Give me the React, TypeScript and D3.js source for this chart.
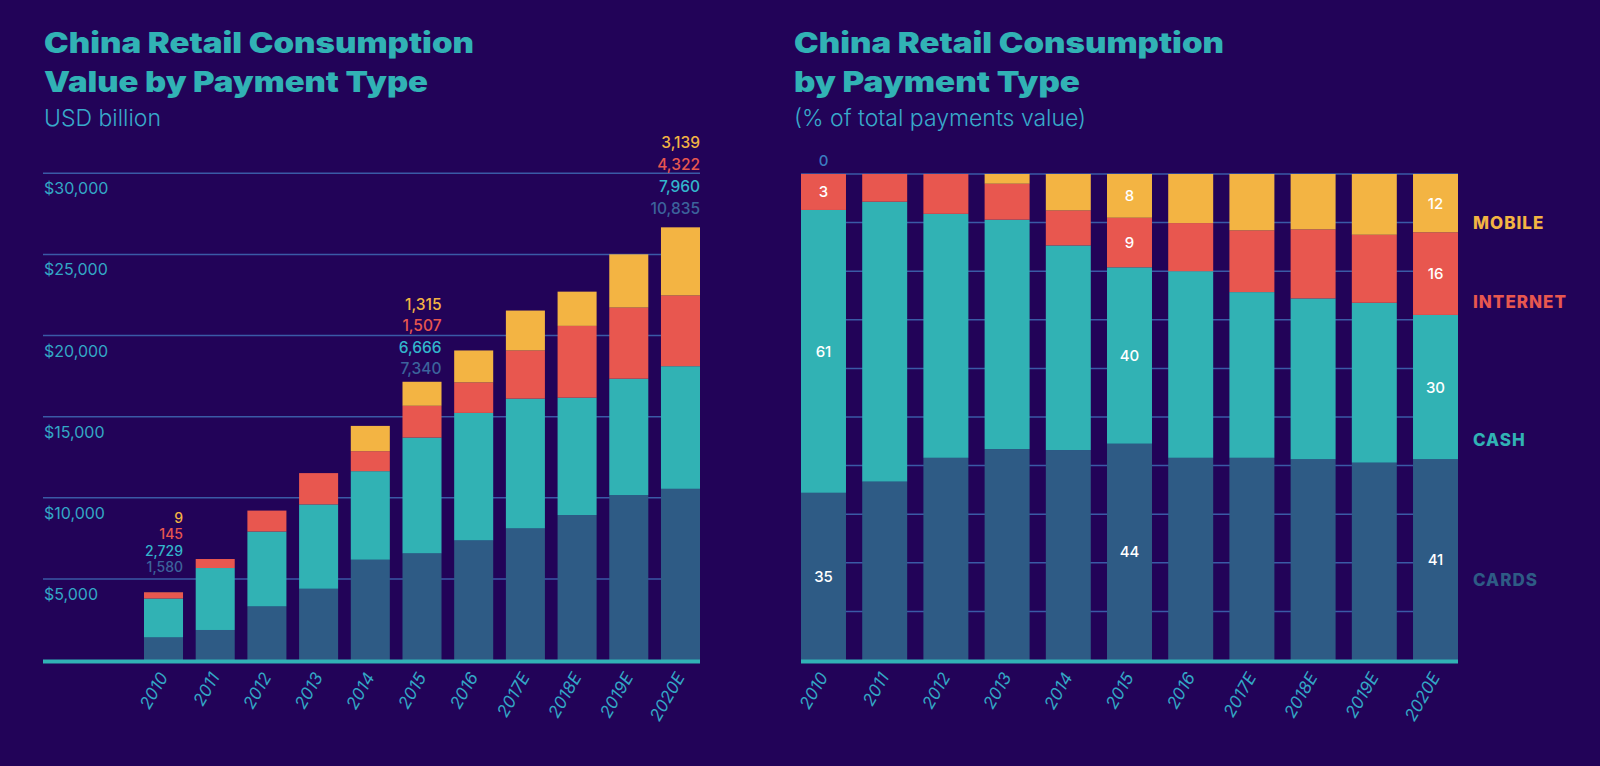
import { useEffect, useMemo } from "react";
import { format, range, scaleBand, scaleLinear, stack } from "d3";

// --- data -------------------------------------------------------------
const YEARS = ["2010", "2011", "2012", "2013", "2014", "2015", "2016", "2017E", "2018E", "2019E", "2020E"];

// USD billion (left chart), bar heights as drawn
const VALUE_CARDS = [1390, 1850, 3300, 4390, 6180, 6570, 7370, 8110, 8930, 10160, 10550];
const VALUE_CASH = [2400, 3820, 4620, 5200, 5460, 7140, 7860, 8000, 7240, 7180, 7560];
const VALUE_INTERNET = [380, 555, 1290, 1930, 1230, 1960, 1880, 2970, 4425, 4385, 4360];
const VALUE_MOBILE = [9, 0, 0, 0, 1560, 1480, 1970, 2460, 2110, 3280, 4200];
const VALUE_TICKS = [5000, 10000, 15000, 20000, 25000, 30000];

// printed values above the bars
const VALUE_LABEL_YEARS = ["2010", "2015", "2020E"];
const VALUE_LABEL_CARDS = [1580, 7340, 10835];
const VALUE_LABEL_CASH = [2729, 6666, 7960];
const VALUE_LABEL_INTERNET = [145, 1507, 4322];
const VALUE_LABEL_MOBILE = [9, 1315, 3139];

// % of total payments value (right chart), as drawn
const SHARE_CARDS = [34.4, 36.7, 41.6, 43.4, 43.2, 44.5, 41.6, 41.6, 41.3, 40.6, 41.3];
const SHARE_CASH = [58.2, 57.6, 50.2, 47.2, 42.1, 36.3, 38.4, 34.1, 33.1, 32.9, 29.7];
const SHARE_INTERNET = [7.4, 5.7, 8.2, 7.4, 7.2, 10.2, 9.9, 12.7, 14.2, 14.0, 17.0];
const SHARE_MOBILE = [0, 0, 0, 2.0, 7.5, 9.0, 10.1, 11.6, 11.4, 12.5, 12.0];

// printed share labels
const SHARE_LABEL_YEARS = ["2010", "2015", "2020E"];
const SHARE_LABEL_CARDS = [35, 44, 41];
const SHARE_LABEL_CASH = [61, 40, 30];
const SHARE_LABEL_INTERNET = [3, 9, 16];
const SHARE_LABEL_MOBILE = [0, 8, 12];

const KEYS = ["cards", "cash", "internet", "mobile"] as const;
type Key = (typeof KEYS)[number];

// --- styles -----------------------------------------------------------
const BG = "#220358";
const TEAL = "#31b2b5";
const AXIS_TEXT = "#33a8c6";
const GRID = "#3a5aa6";
const FONT = "Inter, 'Noto Sans', sans-serif";
const COLORS: Record<Key, string> = {
  cards: "#2e5b85",
  cash: "#31b2b4",
  internet: "#e8574f",
  mobile: "#f3b443",
};
const LABEL_COLORS: Record<Key, string> = {
  cards: "#3c639c",
  cash: "#33b5cc",
  internet: "#e8574f",
  mobile: "#f3b443",
};
const LEGEND_NAMES: Record<Key, string> = {
  cards: "CARDS",
  cash: "CASH",
  internet: "INTERNET",
  mobile: "MOBILE",
};
// legend rows sit at these share levels
const LEGEND_AT: Record<Key, number> = { mobile: 90, internet: 73.7, cash: 45.3, cards: 16.5 };
// line gap / lift above bar / font size of each printed value block
const VALUE_LABEL_LAYOUT = [
  { gap: 16.5, lift: 20, size: 14 },
  { gap: 21.5, lift: 7.5, size: 15.5 },
  { gap: 22, lift: 13, size: 15.5 },
];

const LEFT = { x0: 144, x1: 700, gridX0: 43, top: 173.3, base: 660 };
const RIGHT = { x0: 801, x1: 1458, top: 174, base: 660 };

type Row = { year: string } & Record<Key, number>;

const buildRows = (a: number[], b: number[], c: number[], d: number[]): Row[] =>
  YEARS.map((year, i) => ({ year, cards: a[i], cash: b[i], internet: c[i], mobile: d[i] }));

const Title = ({ x, lines, sub }: { x: number; lines: [string, number][]; sub: string }) => (
  <g fontFamily={FONT}>
    {lines.map(([t, len], i) => (
      <text
        key={t}
        x={x}
        y={53 + i * 38.5}
        fill={TEAL}
        fontSize={28}
        fontWeight={900}
        textLength={len}
        lengthAdjust="spacingAndGlyphs"
      >
        {t}
      </text>
    ))}
    <text x={x} y={126} fill="#38aacb" fontSize={23} fontWeight={300}>
      {sub}
    </text>
  </g>
);

const XLabels = ({ x, base }: { x: ReturnType<typeof scaleBand<string>>; base: number }) => (
  <g fontFamily={FONT} fontSize={17} fontStyle="italic" fill={AXIS_TEXT}>
    {YEARS.map((year) => (
      <text
        key={year}
        textAnchor="end"
        transform={`translate(${(x(year) ?? 0) + x.bandwidth() / 2 + 5},${base + 17}) rotate(-60)`}
      >
        {year}
      </text>
    ))}
  </g>
);

const Bars = ({
  rows,
  x,
  y,
}: {
  rows: Row[];
  x: ReturnType<typeof scaleBand<string>>;
  y: ReturnType<typeof scaleLinear<number, number>>;
}) => {
  const series = stack<Row, Key>().keys(KEYS)(rows);
  return (
    <>
      {series.map((s) => (
        <g key={s.key} fill={COLORS[s.key]}>
          {s.map((d) => (
            <rect
              key={d.data.year}
              x={x(d.data.year)}
              width={x.bandwidth()}
              y={y(d[1])}
              height={Math.max(0, y(d[0]) - y(d[1]))}
            />
          ))}
        </g>
      ))}
    </>
  );
};

const ValueChart = () => {
  const rows = useMemo(() => buildRows(VALUE_CARDS, VALUE_CASH, VALUE_INTERNET, VALUE_MOBILE), []);
  const x = scaleBand<string>().domain(YEARS).range([LEFT.x0, LEFT.x1]).paddingInner(0.245).paddingOuter(0);
  const y = scaleLinear().domain([0, 30000]).range([LEFT.base, LEFT.top]);
  const fmt = format(",");
  const printed: Record<Key, number[]> = {
    cards: VALUE_LABEL_CARDS,
    cash: VALUE_LABEL_CASH,
    internet: VALUE_LABEL_INTERNET,
    mobile: VALUE_LABEL_MOBILE,
  };

  return (
    <g>
      {VALUE_TICKS.map((t) => (
        <g key={t}>
          <line x1={LEFT.gridX0} x2={LEFT.x1} y1={y(t)} y2={y(t)} stroke={GRID} strokeWidth={1.5} />
          <text x={LEFT.gridX0 + 1} y={y(t) + 21} fill={AXIS_TEXT} fontFamily={FONT} fontSize={16}>
            ${fmt(t)}
          </text>
        </g>
      ))}
      <Bars rows={rows} x={x} y={y} />
      <rect x={LEFT.gridX0} y={LEFT.base - 0.5} width={LEFT.x1 - LEFT.gridX0} height={4} fill={TEAL} />
      {VALUE_LABEL_YEARS.map((year, yi) => {
        const row = rows.find((r) => r.year === year)!;
        const total = KEYS.reduce((acc, k) => acc + row[k], 0);
        const { gap, lift, size } = VALUE_LABEL_LAYOUT[yi];
        const right = (x(year) ?? 0) + x.bandwidth();
        const bottom = y(total) - lift;
        return (
          <g key={year} fontFamily={FONT} fontSize={size} fontWeight={500} textAnchor="end">
            {KEYS.map((k, i) => (
              <text key={k} x={right} y={bottom - i * gap} fill={LABEL_COLORS[k]}>
                {fmt(printed[k][yi])}
              </text>
            ))}
          </g>
        );
      })}
      <XLabels x={x} base={LEFT.base} />
    </g>
  );
};

const ShareChart = () => {
  const rows = useMemo(() => buildRows(SHARE_CARDS, SHARE_CASH, SHARE_INTERNET, SHARE_MOBILE), []);
  const series = useMemo(() => stack<Row, Key>().keys(KEYS)(rows), [rows]);
  const x = scaleBand<string>().domain(YEARS).range([RIGHT.x0, RIGHT.x1]).paddingInner(0.265).paddingOuter(0);
  const y = scaleLinear().domain([0, 100]).range([RIGHT.base, RIGHT.top]);
  const printed: Record<Key, number[]> = {
    cards: SHARE_LABEL_CARDS,
    cash: SHARE_LABEL_CASH,
    internet: SHARE_LABEL_INTERNET,
    mobile: SHARE_LABEL_MOBILE,
  };

  return (
    <g>
      {range(10, 101, 10).map((t) => (
        <line key={t} x1={RIGHT.x0} x2={RIGHT.x1} y1={y(t)} y2={y(t)} stroke={GRID} strokeWidth={1.5} />
      ))}
      <Bars rows={rows} x={x} y={y} />
      <rect x={RIGHT.x0} y={RIGHT.base - 0.5} width={RIGHT.x1 - RIGHT.x0} height={4} fill={TEAL} />
      {SHARE_LABEL_YEARS.map((year, yi) => {
        const cx = (x(year) ?? 0) + x.bandwidth() / 2;
        const idx = YEARS.indexOf(year);
        return (
          <g key={year} fontFamily={FONT} fontSize={15} fontWeight={500} textAnchor="middle">
            {series.map((s) => {
              const d = s[idx];
              const empty = d[1] - d[0] < 0.5;
              const cy = empty ? y(d[1]) - 13 : (y(d[0]) + y(d[1])) / 2;
              return (
                <text key={s.key} x={cx} y={cy} dy="0.36em" fill={empty ? "#3a7cc0" : "#ffffff"}>
                  {printed[s.key][yi]}
                </text>
              );
            })}
          </g>
        );
      })}
      <g fontFamily={FONT} fontSize={17} fontWeight={800} letterSpacing={1}>
        {KEYS.map((k) => (
          <text key={k} x={RIGHT.x1 + 15} y={y(LEGEND_AT[k])} dy="0.36em" fill={COLORS[k]}>
            {LEGEND_NAMES[k]}
          </text>
        ))}
      </g>
      <XLabels x={x} base={RIGHT.base} />
    </g>
  );
};

export default function App() {
  useEffect(() => {
    document.body.style.margin = "0";
    document.body.style.background = BG;
  }, []);

  return (
    <svg width={1600} height={766} style={{ display: "block", background: BG }}>
      <rect width={1600} height={766} fill={BG} />
      <Title
        x={44}
        lines={[
          ["China Retail Consumption", 430],
          ["Value by Payment Type", 384],
        ]}
        sub="USD billion"
      />
      <Title
        x={794}
        lines={[
          ["China Retail Consumption", 430],
          ["by Payment Type", 286],
        ]}
        sub="(% of total payments value)"
      />
      <ValueChart />
      <ShareChart />
    </svg>
  );
}
